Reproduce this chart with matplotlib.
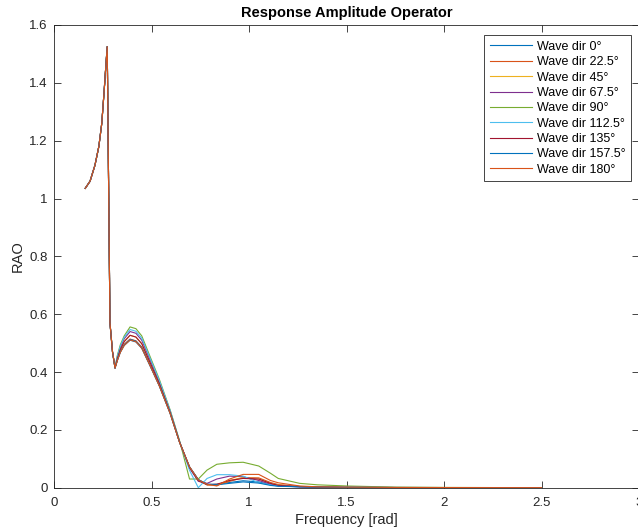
import matplotlib
matplotlib.use('Agg')
import matplotlib.pyplot as plt

# frequency grid [rad]
freq = [0.16, 0.185, 0.21, 0.23, 0.245, 0.257, 0.267, 0.273, 0.287, 0.30, 0.313,
        0.325, 0.34, 0.36, 0.39, 0.42, 0.45, 0.49, 0.54, 0.595, 0.645, 0.695,
        0.74, 0.785, 0.835, 0.9, 0.97, 1.05, 1.11, 1.15, 1.26, 1.35, 1.5,
        1.75, 2.0, 2.25, 2.5]

# low-frequency part is the same for every heading
rao_head = [1.035, 1.06, 1.115, 1.18, 1.26, 1.37, 1.47, 1.525, 0.57, 0.47, 0.414]

rao_0 = rao_head + [0.44, 0.468, 0.492, 0.510, 0.504, 0.482, 0.425, 0.352, 0.258, 0.155, 0.072,
                    0.028, 0.012, 0.012, 0.018, 0.024, 0.02, 0.01, 0.006, 0.003, 0.002, 0.001,
                    0.0005, 0.0003, 0.0002, 0.0001]
rao_22 = rao_head + [0.442, 0.471, 0.496, 0.514, 0.508, 0.486, 0.428, 0.354, 0.259, 0.155, 0.072,
                     0.027, 0.01, 0.008, 0.022, 0.035, 0.034, 0.018, 0.011, 0.004, 0.002, 0.001,
                     0.0005, 0.0003, 0.0002, 0.0001]
rao_45 = rao_head + [0.447, 0.478, 0.506, 0.527, 0.521, 0.498, 0.437, 0.36, 0.262, 0.156, 0.07,
                     0.026, 0.01, 0.01, 0.025, 0.035, 0.03, 0.015, 0.009, 0.004, 0.002, 0.001,
                     0.0005, 0.0003, 0.0002, 0.0001]
rao_67 = rao_head + [0.452, 0.486, 0.515, 0.54, 0.534, 0.51, 0.447, 0.367, 0.266, 0.157, 0.068,
                     0.022, 0.015, 0.03, 0.04, 0.038, 0.025, 0.012, 0.007, 0.003, 0.002, 0.001,
                     0.0005, 0.0003, 0.0002, 0.0001]
rao_90 = rao_head + [0.458, 0.494, 0.525, 0.556, 0.55, 0.525, 0.458, 0.375, 0.27, 0.16, 0.03,
                     0.03, 0.061, 0.081, 0.086, 0.088, 0.075, 0.05, 0.032, 0.015, 0.01, 0.006,
                     0.002, 0.001, 0.0005, 0.0003]
rao_112 = rao_head + [0.455, 0.49, 0.52, 0.547, 0.541, 0.517, 0.452, 0.371, 0.268, 0.158, 0.06,
                      0.0, 0.032, 0.045, 0.045, 0.04, 0.017, 0.01, 0.007, 0.004, 0.003, 0.002,
                      0.001, 0.0005, 0.0003, 0.0002]
rao_135 = rao_head + [0.447, 0.478, 0.505, 0.527, 0.521, 0.498, 0.437, 0.36, 0.262, 0.156, 0.07,
                      0.025, 0.01, 0.012, 0.025, 0.032, 0.03, 0.015, 0.008, 0.004, 0.002, 0.001,
                      0.0005, 0.0003, 0.0002, 0.0001]
rao_157 = rao_head + [0.441, 0.47, 0.494, 0.513, 0.507, 0.485, 0.427, 0.353, 0.258, 0.155, 0.072,
                      0.028, 0.012, 0.01, 0.015, 0.02, 0.016, 0.008, 0.005, 0.003, 0.002, 0.001,
                      0.0005, 0.0003, 0.0002, 0.0001]
rao_180 = rao_head + [0.44, 0.468, 0.492, 0.511, 0.505, 0.483, 0.426, 0.352, 0.258, 0.155, 0.072,
                      0.027, 0.012, 0.006, 0.03, 0.046, 0.046, 0.025, 0.017, 0.006, 0.003, 0.002,
                      0.001, 0.0005, 0.0003, 0.0002]

labels = ['Wave dir 0°', 'Wave dir 22.5°', 'Wave dir 45°', 'Wave dir 67.5°', 'Wave dir 90°',
          'Wave dir 112.5°', 'Wave dir 135°', 'Wave dir 157.5°', 'Wave dir 180°']
series = [rao_0, rao_22, rao_45, rao_67, rao_90, rao_112, rao_135, rao_157, rao_180]

# MATLAB default colour order
colors = ['#0072BD', '#D95319', '#EDB120', '#7E2F8E', '#77AC30', '#4DBEEE', '#A2142F',
          '#0072BD', '#D95319']

plt.rcParams['font.family'] = ['Liberation Sans', 'DejaVu Sans']
axcol = '#262626'

fig = plt.figure(figsize=(6.38, 5.30), dpi=100)
ax = fig.add_axes([54/638, 42.3/530, 585/638, 462.7/530])

for y, lab, c in zip(series, labels, colors):
    ax.plot(freq, y, color=c, lw=0.8, label=lab)

ax.set_xlim(0, 3)
ax.set_ylim(0, 1.6)
ax.set_xticks([0, 0.5, 1, 1.5, 2, 2.5, 3])
ax.set_xticklabels(['0', '0.5', '1', '1.5', '2', '2.5', '3'])
ax.set_yticks([0, 0.2, 0.4, 0.6, 0.8, 1.0, 1.2, 1.4, 1.6])
ax.set_yticklabels(['0', '0.2', '0.4', '0.6', '0.8', '1', '1.2', '1.4', '1.6'])
ax.tick_params(direction='in', top=True, right=True, length=5, width=0.6,
               colors=axcol, labelsize=9.5)
ax.tick_params(axis='x', pad=6.5)
ax.tick_params(axis='y', pad=4.5)
for s in ax.spines.values():
    s.set_color(axcol)
    s.set_linewidth(0.6)

ax.set_title('Response Amplitude Operator', fontsize=10.5, fontweight='bold', color='black', pad=6)
ax.set_xlabel('Frequency [rad]', fontsize=10.5, color=axcol, labelpad=3)
ax.set_ylabel('RAO', fontsize=10.5, color=axcol, labelpad=3)

leg = ax.legend(loc='upper right', bbox_to_anchor=(0.9863, 0.978), borderaxespad=0,
                fontsize=9, handlelength=3.4, handletextpad=0.35, labelspacing=0.27,
                fancybox=False, framealpha=1, borderpad=0.45)
leg.get_frame().set_edgecolor(axcol)
leg.get_frame().set_linewidth(0.6)

fig.savefig('out.png', dpi=100)
